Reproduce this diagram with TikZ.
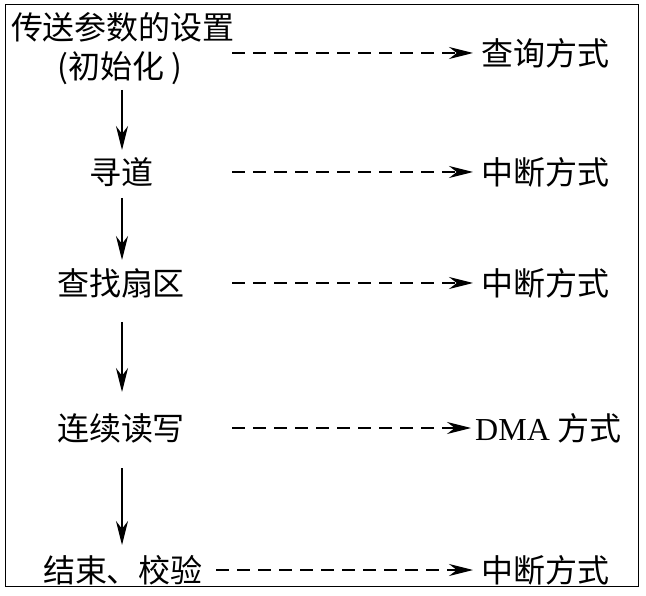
\documentclass[tikz,border=0pt]{standalone}
\usepackage{fontspec}
\setmainfont{Liberation Serif}
\newfontfamily\cjk{Noto Sans CJK SC}
\usetikzlibrary{arrows.meta}
\begin{document}
\begin{tikzpicture}[x=1pt,y=-1pt,
  t/.style={font=\cjk\fontsize{32}{34}\selectfont, inner sep=0pt},
  ar/.style={-{Stealth[length=24pt,width=12pt]}, line width=1.2pt},
  da/.style={ar, dash pattern=on 13pt off 8pt}]
\useasboundingbox (0,0) rectangle (646,596);
\draw[line width=1pt] (5,5) rectangle (638,586);
\node[t] (a1) at (123,27) {传送参数的设置};
\node[t] (a2) at (120,68) {(初始化 )};
\node[t] (b) at (121,172) {寻道};
\node[t] (c) at (121,283) {查找扇区};
\node[t] (d) at (121,428) {连续读写};
\node[t] (e) at (123,570) {结束、校验};
\node[t,anchor=west] (r1) at (481,53) {查询方式};
\node[t,anchor=west] (r2) at (481,172) {中断方式};
\node[t,anchor=west] (r3) at (481,283) {中断方式};
\node[t,anchor=west] (r4) at (475,428) {{\rmfamily DMA} 方式};
\node[t,anchor=west] (r5) at (481,570) {中断方式};
\coordinate (s1) at (232,53);
\coordinate (s2) at (232,172);
\coordinate (s3) at (232,283);
\coordinate (s4) at (232,428);
\coordinate (s5) at (216,570);
\draw[da] (s1) -- ([xshift=-8pt]r1.west);
\draw[da] (s2) -- ([xshift=-8pt]r2.west);
\draw[da] (s3) -- ([xshift=-8pt]r3.west);
\draw[da] (s4) -- ([xshift=-4pt]r4.west);
\draw[da] (s5) -- ([xshift=-8pt]r5.west);
\coordinate (v1a) at (122,90); \coordinate (v1b) at (122,150);
\coordinate (v2a) at (122,198); \coordinate (v2b) at (122,260);
\coordinate (v3a) at (122,322); \coordinate (v3b) at (122,392);
\coordinate (v4a) at (122,468); \coordinate (v4b) at (122,545);
\draw[ar] (v1a) -- (v1b);
\draw[ar] (v2a) -- (v2b);
\draw[ar] (v3a) -- (v3b);
\draw[ar] (v4a) -- (v4b);
\end{tikzpicture}
\end{document}
